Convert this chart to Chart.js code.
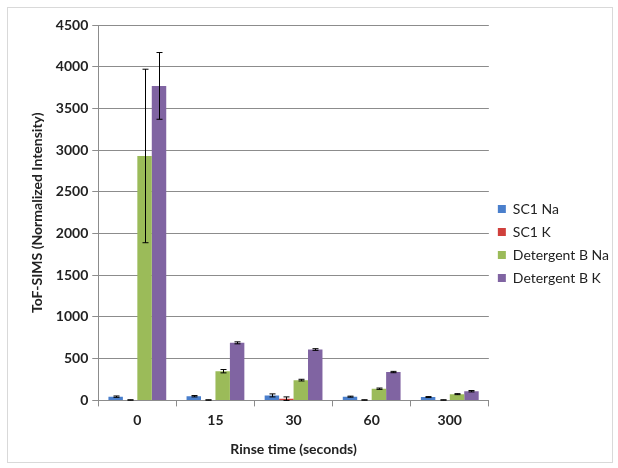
<html>
<head>
<style>
  body { margin: 0; background: #fff; }
  #box { position: absolute; left: 7px; top: 7px; width: 604px; height: 454px; border: 1px solid #d9d9d9; }
  #chart { position: absolute; left: 0; top: 0; }
</style>
</head>
<body>
<div id="box"><canvas id="chart" width="611" height="454"></canvas></div>
<script src="https://cdn.jsdelivr.net/npm/chart.js@4.4.0/dist/chart.umd.min.js"></script>
<script>
// rinse time categories
var rinseTimes = ['0', '15', '30', '60', '300'];

// series values (normalized intensity)
var sc1Na = [45, 50, 60, 45, 40];
var sc1K = [5, 5, 20, 5, 5];
var detBNa = [2930, 350, 243, 140, 75];
var detBK = [3770, 690, 610, 340, 110];

// error bar half-ranges
var sc1NaErr = [8, 8, 18, 6, 6];
var sc1KErr = [2, 2, 22, 2, 2];
var detBNaErr = [1040, 20, 10, 8, 6];
var detBKErr = [400, 12, 10, 8, 8];

var yTicks = [0, 500, 1000, 1500, 2000, 2500, 3000, 3500, 4000, 4500];

// draws vertical error bars with caps
var errorBars = {
    id: 'errorBars',
    afterDatasetsDraw: function(chart) {
        var ctx = chart.ctx;
        var y = chart.scales.y;
        ctx.save();
        ctx.strokeStyle = '#000';
        ctx.lineWidth = 1;
        chart.data.datasets.forEach(function(ds, i) {
            var meta = chart.getDatasetMeta(i);
            meta.data.forEach(function(bar, j) {
                var v = ds.data[j], e = ds.errors[j];
                var top = y.getPixelForValue(v + e);
                var bot = y.getPixelForValue(Math.max(v - e, 0));
                var x = Math.round(bar.x) + 0.5;
                ctx.beginPath();
                ctx.moveTo(x, top); ctx.lineTo(x, bot);
                ctx.moveTo(x - 3, top); ctx.lineTo(x + 3, top);
                ctx.moveTo(x - 3, bot); ctx.lineTo(x + 3, bot);
                ctx.stroke();
            });
        });
        ctx.restore();
    }
};

Chart.defaults.font.family = 'Lato, "Open Sans", sans-serif';
Chart.defaults.color = '#222';

var ctx = document.getElementById('chart').getContext('2d');
var chart = new Chart(ctx, {
    type: 'bar',
    data: {
        labels: rinseTimes,
        datasets: [
            { label: 'SC1 Na', data: sc1Na, errors: sc1NaErr, backgroundColor: '#4a7fcc' },
            { label: 'SC1 K', data: sc1K, errors: sc1KErr, backgroundColor: '#d0403c' },
            { label: 'Detergent B Na', data: detBNa, errors: detBNaErr, backgroundColor: '#9bbb59' },
            { label: 'Detergent B K', data: detBK, errors: detBKErr, backgroundColor: '#8064a2' }
        ]
    },
    options: {
        responsive: false,
        animation: false,
        barPercentage: 1,
        categoryPercentage: 0.74,
        layout: { padding: { left: 17, top: 17, right: 0, bottom: 0 } },
        plugins: {
            legend: {
                position: 'right',
                labels: { boxWidth: 8, boxHeight: 8, padding: 9, font: { size: 14 } }
            },
            tooltip: { enabled: false }
        },
        scales: {
            x: {
                grid: { offset: true, drawOnChartArea: false, drawTicks: true, tickLength: 6, color: '#8c8c8c' },
                border: { color: '#8c8c8c' },
                ticks: { font: { size: 14, weight: 'bold' }, padding: 6 },
                title: { display: true, text: 'Rinse time (seconds)', font: { size: 14, weight: 'bold' }, padding: { top: 6 } }
            },
            y: {
                min: 0,
                max: 4500,
                afterBuildTicks: function(axis) {
                    axis.ticks = yTicks.map(function(v) { return { value: v }; });
                },
                grid: { color: '#8c8c8c', tickLength: 6 },
                border: { color: '#8c8c8c' },
                ticks: {
                    font: { size: 14, weight: 'bold' }, padding: 4,
                    callback: function(v) { return String(v); }
                },
                title: { display: true, text: 'ToF-SIMS (Normalized Intensity)', font: { size: 14, weight: 'bold' }, padding: { bottom: 6 } }
            }
        }
    },
    plugins: [errorBars]
});
</script>
</body>
</html>
